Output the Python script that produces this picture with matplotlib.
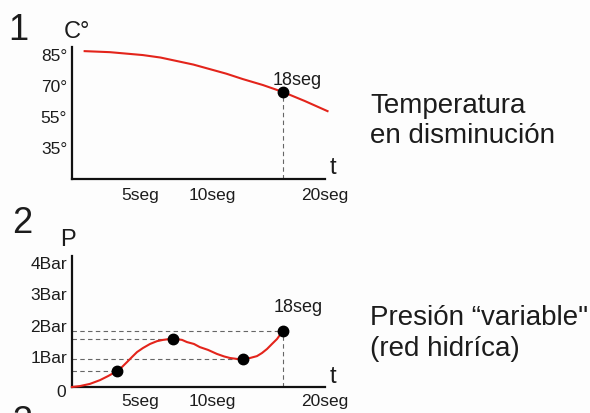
import numpy as np
import matplotlib
matplotlib.use("Agg")
import matplotlib.pyplot as plt

plt.rcParams['font.family'] = ['Liberation Sans', 'DejaVu Sans']

# panel 1: temperature curve (t in drawn seconds, degrees)
temp_t = [1.0, 3.0, 4.3, 5.6, 7.0, 8.3, 9.6, 10.9, 12.2, 13.5, 15.1, 16.7, 18.4, 20.2]
temp_c = [86.4, 85.9, 85.2, 84.5, 83.3, 81.6, 79.9, 77.7, 75.5, 72.9, 70.0, 66.6, 62.3, 57.4]
temp_mark_t = 16.7
temp_mark_c = 66.6
temp_yticks = [85, 70, 55, 40]
temp_ylabels = ['85°', '70°', '55°', '35°']

# panel 2: pressure curve (t, bar)
pres_t = [0.0, 0.63, 1.42, 2.21, 2.85, 3.56, 3.95, 4.35, 4.74, 5.14, 5.61, 6.17,
          6.72, 7.19, 7.75, 8.22, 8.70, 9.09, 9.64, 10.1, 10.75, 11.46, 12.02,
          12.49, 13.04, 13.52, 14.07, 14.62, 15.02, 15.42, 15.81, 16.21, 16.44,
          16.68]
pres_p = [0.0, 0.03, 0.10, 0.22, 0.35, 0.51, 0.64, 0.80, 0.96, 1.12, 1.25, 1.38,
          1.47, 1.51, 1.54, 1.54, 1.51, 1.44, 1.38, 1.28, 1.19, 1.06, 0.98,
          0.93, 0.90, 0.91, 0.93, 0.99, 1.09, 1.22, 1.38, 1.54, 1.67, 1.79]
pres_mark_t = [3.56, 8.0, 13.52, 16.68]
pres_mark_p = [0.51, 1.54, 0.91, 1.79]
pres_yticks = [1, 2, 3, 4]
pres_ylabels = ['1Bar', '2Bar', '3Bar', '4Bar']

# shared time axis labels
t_ticks = [5.4, 11.1, 20.0]
t_labels = ['5seg', '10seg', '20seg']

W, H = 590, 414
RED = '#e3241b'
INK = '#1c1c1c'
fig = plt.figure(figsize=(W / 100, H / 100), dpi=100)
fig.patch.set_facecolor('#fdfdfd')


def px(x, y):
    return x / W, 1 - y / H


def style(ax, pad_x):
    ax.set_facecolor('none')
    for s in ['top', 'right']:
        ax.spines[s].set_visible(False)
    for s in ['left', 'bottom']:
        ax.spines[s].set_linewidth(1.6)
        ax.spines[s].set_color('#111111')
    ax.tick_params(length=0, labelsize=12.5, labelcolor=INK)
    ax.tick_params(axis='y', pad=3.5)
    ax.tick_params(axis='x', pad=pad_x)
    ax.set_xticks(t_ticks)
    ax.set_xticklabels(t_labels)
    ax.set_xlim(0, 20)


# ---- panel 1
ax1 = fig.add_axes([72 / W, (H - 180) / H, 253 / W, 132 / H])
style(ax1, 5.5)
ax1.set_ylim(24.6, 88.4)
ax1.set_yticks(temp_yticks)
ax1.set_yticklabels(temp_ylabels)
ax1.plot(temp_t, temp_c, color=RED, lw=1.5, clip_on=False, zorder=3,
         solid_joinstyle='round')
ax1.plot([temp_mark_t, temp_mark_t], [24.6, temp_mark_c], ls=(0, (4, 3)),
         color='#666666', lw=0.8)
ax1.plot(temp_mark_t, temp_mark_c, 'o', color='black', ms=7.5, zorder=4)
ax1.annotate('18seg', (temp_mark_t, temp_mark_c), xytext=(10, 9),
             textcoords='offset points', ha='center', va='center',
             fontsize=13, color=INK)

# ---- panel 2
ax2 = fig.add_axes([72 / W, 26 / H, 253 / W, 131 / H])
style(ax2, 4.5)
ax2.set_ylim(0, 4.2)
ax2.set_yticks(pres_yticks)
ax2.set_yticklabels(pres_ylabels)
ax2.plot(pres_t, pres_p, color=RED, lw=1.5, zorder=3, clip_on=False,
         solid_joinstyle='round')
for t, p in zip(pres_mark_t, pres_mark_p):
    ax2.plot([0, t], [p, p], ls=(0, (4, 3)), color='#666666', lw=0.8)
ax2.plot([pres_mark_t[-1]] * 2, [0, pres_mark_p[-1]], ls=(0, (4, 3)),
         color='#666666', lw=0.8)
ax2.plot(pres_mark_t, pres_mark_p, 'o', color='black', ms=7.5, zorder=4)
ax2.annotate('18seg', (pres_mark_t[-1], pres_mark_p[-1]), xytext=(11, 18),
             textcoords='offset points', ha='center', va='center',
             fontsize=13, color=INK)
ax2.annotate('0', (0, 0), xytext=(-7.5, -3.5), textcoords='offset points',
             ha='center', va='center', fontsize=12.5, color=INK)

# ---- free labels
big = dict(fontsize=26, color=INK, ha='center', va='center')
fig.text(*px(18, 31), '1', **big)
fig.text(*px(22, 224), '2', **big)
fig.text(*px(23, 432), '3', fontsize=26, color=INK, ha='center', va='baseline')

axlab = dict(fontsize=17, color=INK, ha='center', va='center')
fig.text(*px(77, 32), 'C°', **axlab)
fig.text(*px(68, 240), 'P', **axlab)
fig.text(*px(333, 168), 't', **axlab)
fig.text(*px(333, 377), 't', **axlab)

side = dict(fontsize=20, color=INK, ha='left', va='baseline')
fig.text(*px(370, 113), 'Temperatura', **side)
fig.text(*px(370, 143), 'en disminución', **side)
fig.text(*px(370, 325), 'Presión “variable"', **side)
fig.text(*px(370, 356), '(red hidríca)', **side)

fig.savefig('out.png', dpi=100, facecolor=fig.get_facecolor())
